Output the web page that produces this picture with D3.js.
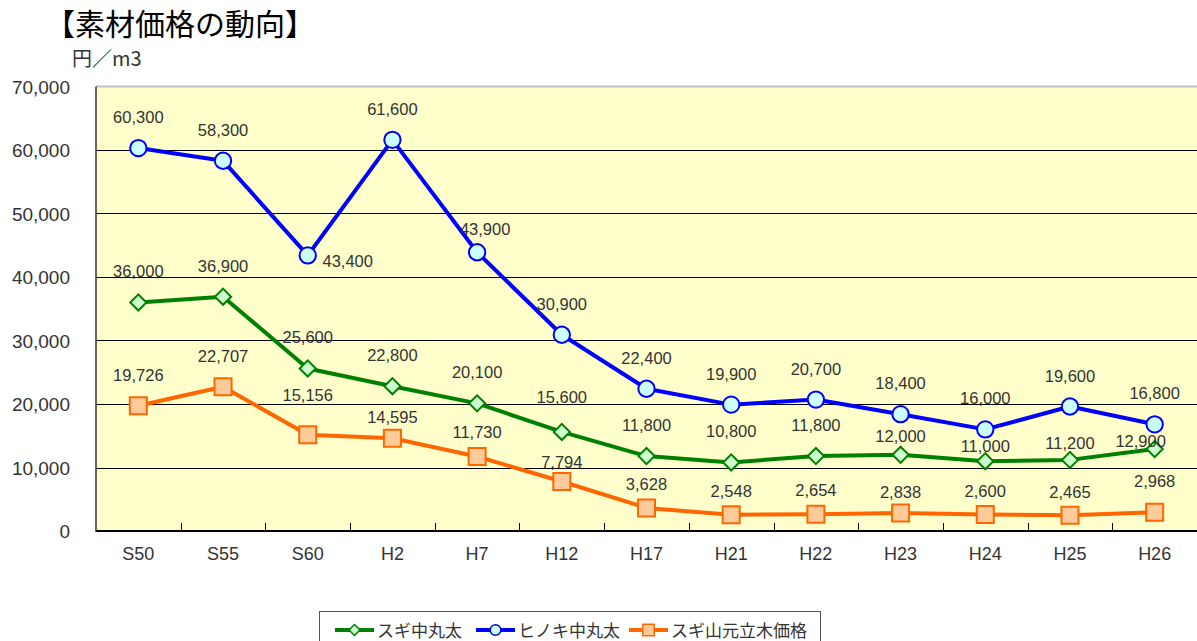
<!DOCTYPE html>
<html>
<head>
<meta charset="utf-8">
<script src="https://cdn.jsdelivr.net/npm/d3@7"></script>
<style>
  body { margin: 0; background: #ffffff; }
  svg { display: block; font-family: "Liberation Sans", "Noto Sans CJK JP", sans-serif; }
</style>
</head>
<body>
<div id="chart"></div>
<script>
// categories (years) and series values
const years = ["S50", "S55", "S60", "H2", "H7", "H12", "H17", "H21", "H22", "H23", "H24", "H25", "H26"];
const sugi = [36000, 36900, 25600, 22800, 20100, 15600, 11800, 10800, 11800, 12000, 11000, 11200, 12900];
const hinoki = [60300, 58300, 43400, 61600, 43900, 30900, 22400, 19900, 20700, 18400, 16000, 19600, 16800];
const tachiki = [19726, 22707, 15156, 14595, 11730, 7794, 3628, 2548, 2654, 2838, 2600, 2465, 2968];
const yTicks = [0, 10000, 20000, 30000, 40000, 50000, 60000, 70000];

const W = 1197, H = 641;
const plot = { left: 96, right: 1197, top: 86.5, bottom: 531 };

const svg = d3.select("#chart").append("svg")
    .attr("width", W)
    .attr("height", H);

// title + unit
svg.append("text")
    .attr("x", 45).attr("y", 35)
    .attr("font-family", "Noto Sans CJK JP")
    .attr("font-size", 30)
    .attr("font-weight", 400)
    .attr("fill", "#000")
    .text("【素材価格の動向】");
svg.append("text")
    .attr("x", 72).attr("y", 66)
    .attr("font-family", "Noto Sans CJK JP")
    .attr("font-size", 20)
    .attr("fill", "#333")
    .text("円／m3");

let x = d3.scaleBand().domain(years).range([plot.left, plot.right]).paddingInner(0).paddingOuter(0);
let y = d3.scaleLinear().domain([0, 70000]).range([plot.bottom, plot.top]);
let cx = d => x(d) + x.bandwidth() / 2;

// plot background
svg.append("rect")
    .attr("x", plot.left).attr("y", plot.top)
    .attr("width", plot.right - plot.left)
    .attr("height", plot.bottom - plot.top)
    .attr("fill", "#ffffcc");
svg.append("line")
    .attr("x1", plot.left).attr("x2", plot.right)
    .attr("y1", plot.top).attr("y2", plot.top)
    .attr("stroke", "#c0c0c0").attr("stroke-width", 2);

// gridlines
svg.append("g").selectAll("line")
    .data(yTicks.filter(t => t > 0 && t < 70000))
    .enter().append("line")
    .attr("x1", plot.left).attr("x2", plot.right)
    .attr("y1", d => Math.round(y(d)) + 0.5).attr("y2", d => Math.round(y(d)) + 0.5)
    .attr("stroke", "#000").attr("stroke-width", 1);

// y axis labels
svg.append("g").selectAll("text")
    .data(yTicks)
    .enter().append("text")
    .attr("x", 70)
    .attr("y", d => y(d) + 7)
    .attr("text-anchor", "end")
    .attr("font-size", 19)
    .attr("fill", "#333")
    .text(d => d3.format(",")(d));

// x axis: line, inner ticks at category boundaries, labels
let xAxis = svg.append("g");
xAxis.append("line")
    .attr("x1", plot.left).attr("x2", plot.right)
    .attr("y1", plot.bottom).attr("y2", plot.bottom)
    .attr("stroke", "#000").attr("stroke-width", 2);
xAxis.append("line")
    .attr("x1", plot.left).attr("x2", plot.left)
    .attr("y1", plot.top).attr("y2", plot.bottom + 1)
    .attr("stroke", "#333").attr("stroke-width", 1.5);
xAxis.selectAll("line.tick")
    .data(years.slice(1))
    .enter().append("line")
    .attr("class", "tick")
    .attr("x1", d => Math.round(x(d)) + 0.5).attr("x2", d => Math.round(x(d)) + 0.5)
    .attr("y1", plot.bottom).attr("y2", plot.bottom - 8)
    .attr("stroke", "#000").attr("stroke-width", 1);
xAxis.selectAll("text")
    .data(years)
    .enter().append("text")
    .attr("x", d => cx(d))
    .attr("y", 560)
    .attr("text-anchor", "middle")
    .attr("font-size", 18)
    .attr("fill", "#333")
    .text(d => d);

const series = [
    { name: "スギ中丸太", values: sugi, line: "#008000", fill: "#ccffcc", marker: "diamond",
      nudge: { 5: [0, -35], 9: [0, -19], 10: [0, -15], 11: [0, -17], 12: [-14, -8] } },
    { name: "ヒノキ中丸太", values: hinoki, line: "#0000ff", fill: "#ccffff", marker: "circle",
      nudge: { 2: [40, 6], 4: [8, -23] } },
    { name: "スギ山元立木価格", values: tachiki, line: "#ff6600", fill: "#ffcc99", marker: "square",
      nudge: { 2: [0, -40], 3: [0, -21], 4: [0, -25], 5: [0, -20], 6: [0, -24], 7: [0, -24],
               8: [0, -24], 9: [0, -21], 10: [0, -23], 11: [0, -23] } }
];

const symbols = {
    diamond: d3.symbol().type(d3.symbolSquare).size(130),
    circle: d3.symbol().type(d3.symbolCircle).size(210),
    square: d3.symbol().type(d3.symbolSquare).size(290)
};

function drawMarker(g, kind, s) {
    let p = g.append("path")
        .attr("d", symbols[kind]())
        .attr("fill", s.fill)
        .attr("stroke", s.line)
        .attr("stroke-width", 2);
    if (kind === "diamond") p.attr("transform", "rotate(45)");
    return p;
}

let line = d3.line().x((d, i) => cx(years[i])).y(d => y(d));

// draw order: orange, green, blue (blue on top)
[series[2], series[0], series[1]].forEach(s => {
    let g = svg.append("g");
    g.append("path")
        .attr("d", line(s.values))
        .attr("fill", "none")
        .attr("stroke", s.line)
        .attr("stroke-width", 4)
        .attr("stroke-linejoin", "round");
    s.values.forEach((v, i) => {
        let m = g.append("g").attr("transform", "translate(" + cx(years[i]) + "," + y(v) + ")");
        drawMarker(m, s.marker, s);
    });
});

// data labels
series.forEach(s => {
    svg.append("g").selectAll("text")
        .data(s.values)
        .enter().append("text")
        .attr("x", (d, i) => cx(years[i]) + (s.nudge[i] ? s.nudge[i][0] : 0))
        .attr("y", (d, i) => y(d) + (s.nudge[i] ? s.nudge[i][1] : -31) + 6)
        .attr("text-anchor", "middle")
        .attr("font-size", 16.5)
        .attr("fill", "#333")
        .text(d => d3.format(",")(d));
});

// legend
let legend = svg.append("g");
legend.append("rect")
    .attr("x", 319.5).attr("y", 611.5)
    .attr("width", 501).attr("height", 40)
    .attr("fill", "#fff")
    .attr("stroke", "#555").attr("stroke-width", 1);
const legendX = [335, 476, 629];
series.forEach((s, i) => {
    let lx = legendX[i], ly = 630;
    legend.append("line")
        .attr("x1", lx).attr("x2", lx + 39)
        .attr("y1", ly).attr("y2", ly)
        .attr("stroke", s.line).attr("stroke-width", 4);
    let m = legend.append("g").attr("transform", "translate(" + (lx + 19.5) + "," + ly + ")");
    let kind = s.marker;
    let p = m.append("path")
        .attr("d", d3.symbol().type(kind === "circle" ? d3.symbolCircle : d3.symbolSquare)
            .size(kind === "diamond" ? 60 : kind === "circle" ? 90 : 130)())
        .attr("fill", s.fill).attr("stroke", s.line).attr("stroke-width", 1.5);
    if (kind === "diamond") p.attr("transform", "rotate(45)");
    legend.append("text")
        .attr("x", lx + 42).attr("y", 637)
        .attr("font-family", "Noto Sans CJK JP")
        .attr("font-size", 17)
        .attr("fill", "#333")
        .text(s.name);
});
</script>
</body>
</html>
